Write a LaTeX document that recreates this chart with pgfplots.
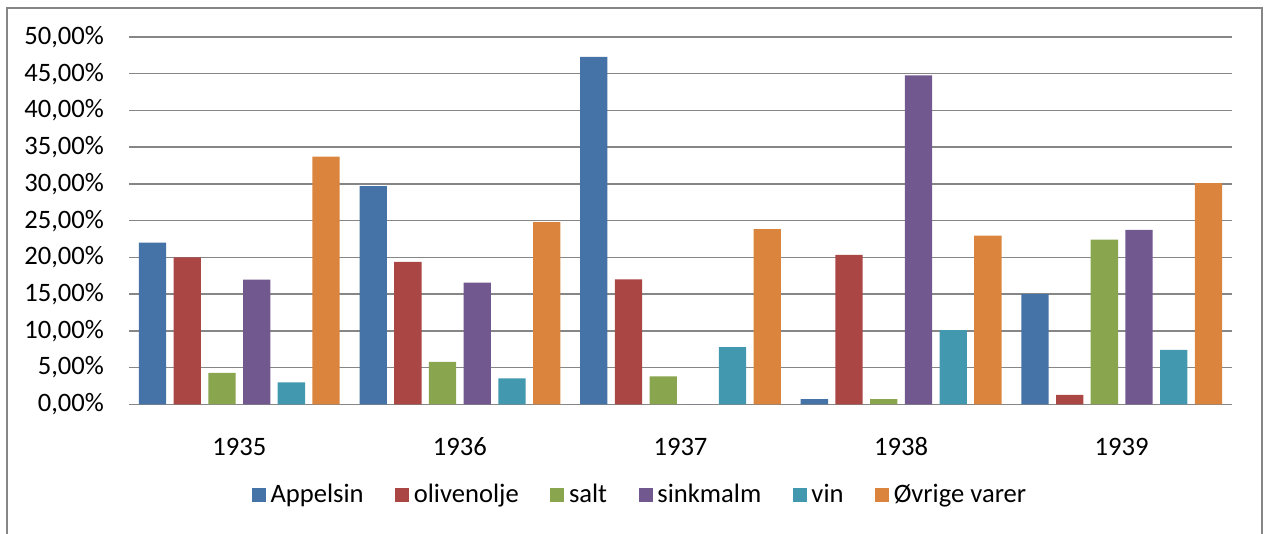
\documentclass[border=0pt]{standalone}
\usepackage{fontspec}
\setmainfont{Carlito}[Numbers=Lining]
\usepackage{pgfplots}
\pgfplotsset{compat=1.18}
\definecolor{cA}{RGB}{69,114,167}
\definecolor{cB}{RGB}{170,70,67}
\definecolor{cC}{RGB}{137,165,78}
\definecolor{cD}{RGB}{113,88,143}
\definecolor{cE}{RGB}{65,152,175}
\definecolor{cF}{RGB}{219,132,61}
\definecolor{gridgray}{RGB}{134,134,134}
\begin{document}
\begin{tikzpicture}
\begin{axis}[
  scale only axis,
  width=551.5pt, height=183.65pt,
  ybar=3.7pt, bar width=13.65pt,
  xmin=-0.5, xmax=4.5, ymin=0, ymax=50,
  xtick={0,1,2,3,4},
  xticklabels={1935,1936,1937,1938,1939},
  ytick={0,5,...,50},
  yticklabel={\pgfmathprintnumber[fixed,fixed zerofill,precision=2,use comma]{\tick}\%},
  /pgf/number format/assume math mode=true,
  font=\fontsize{13.3}{16}\selectfont,
  tick label style={font=\fontsize{13.3}{16}\selectfont},
  yticklabel style={xshift=-9pt},
  xticklabel style={yshift=-9pt, text height=9pt, text depth=0pt},
  axis x line*=bottom, axis y line*=left,
  y axis line style={draw=none},
  x axis line style={draw=gridgray, line width=0.7pt, -},
  tick style={draw=none},
  ymajorgrids, grid style={draw=gridgray, line width=0.7pt},
  legend columns=6,
  legend style={draw=none, fill=none, at={(0.4645,-0.247)}, anchor=center,
    font=\fontsize{13.3}{16}\selectfont,
    nodes={inner xsep=2.3pt},
    /tikz/every even column/.append style={column sep=13.5pt}},
  legend image code/.code={\fill[#1] (0pt,-3.5pt) rectangle (7pt,3.5pt);},
  every axis plot/.append style={draw=none},
]
\addplot[fill=cA] coordinates {(0,22.0) (1,29.7) (2,47.3) (3,0.72) (4,15.0)};
\addplot[fill=cB] coordinates {(0,20.0) (1,19.4) (2,17.0) (3,20.34) (4,1.27)};
\addplot[fill=cC] coordinates {(0,4.27) (1,5.76) (2,3.8) (3,0.7) (4,22.4)};
\addplot[fill=cD] coordinates {(0,16.98) (1,16.57) (2,0) (3,44.77) (4,23.75)};
\addplot[fill=cE] coordinates {(0,3.0) (1,3.54) (2,7.77) (3,10.1) (4,7.4)};
\addplot[fill=cF] coordinates {(0,33.7) (1,24.8) (2,23.84) (3,22.97) (4,30.1)};
\legend{Appelsin,olivenolje,salt,sinkmalm,vin,Øvrige varer}
\end{axis}
\path[use as bounding box] (-64.5pt,-64.85pt) rectangle (567.5pt,202.15pt);
\draw[gridgray, line width=0.7pt] (-61pt,-64.85pt) -- (-61pt,198.15pt) -- (566.5pt,198.15pt) -- (566.5pt,-64.85pt);
\end{tikzpicture}
\end{document}
